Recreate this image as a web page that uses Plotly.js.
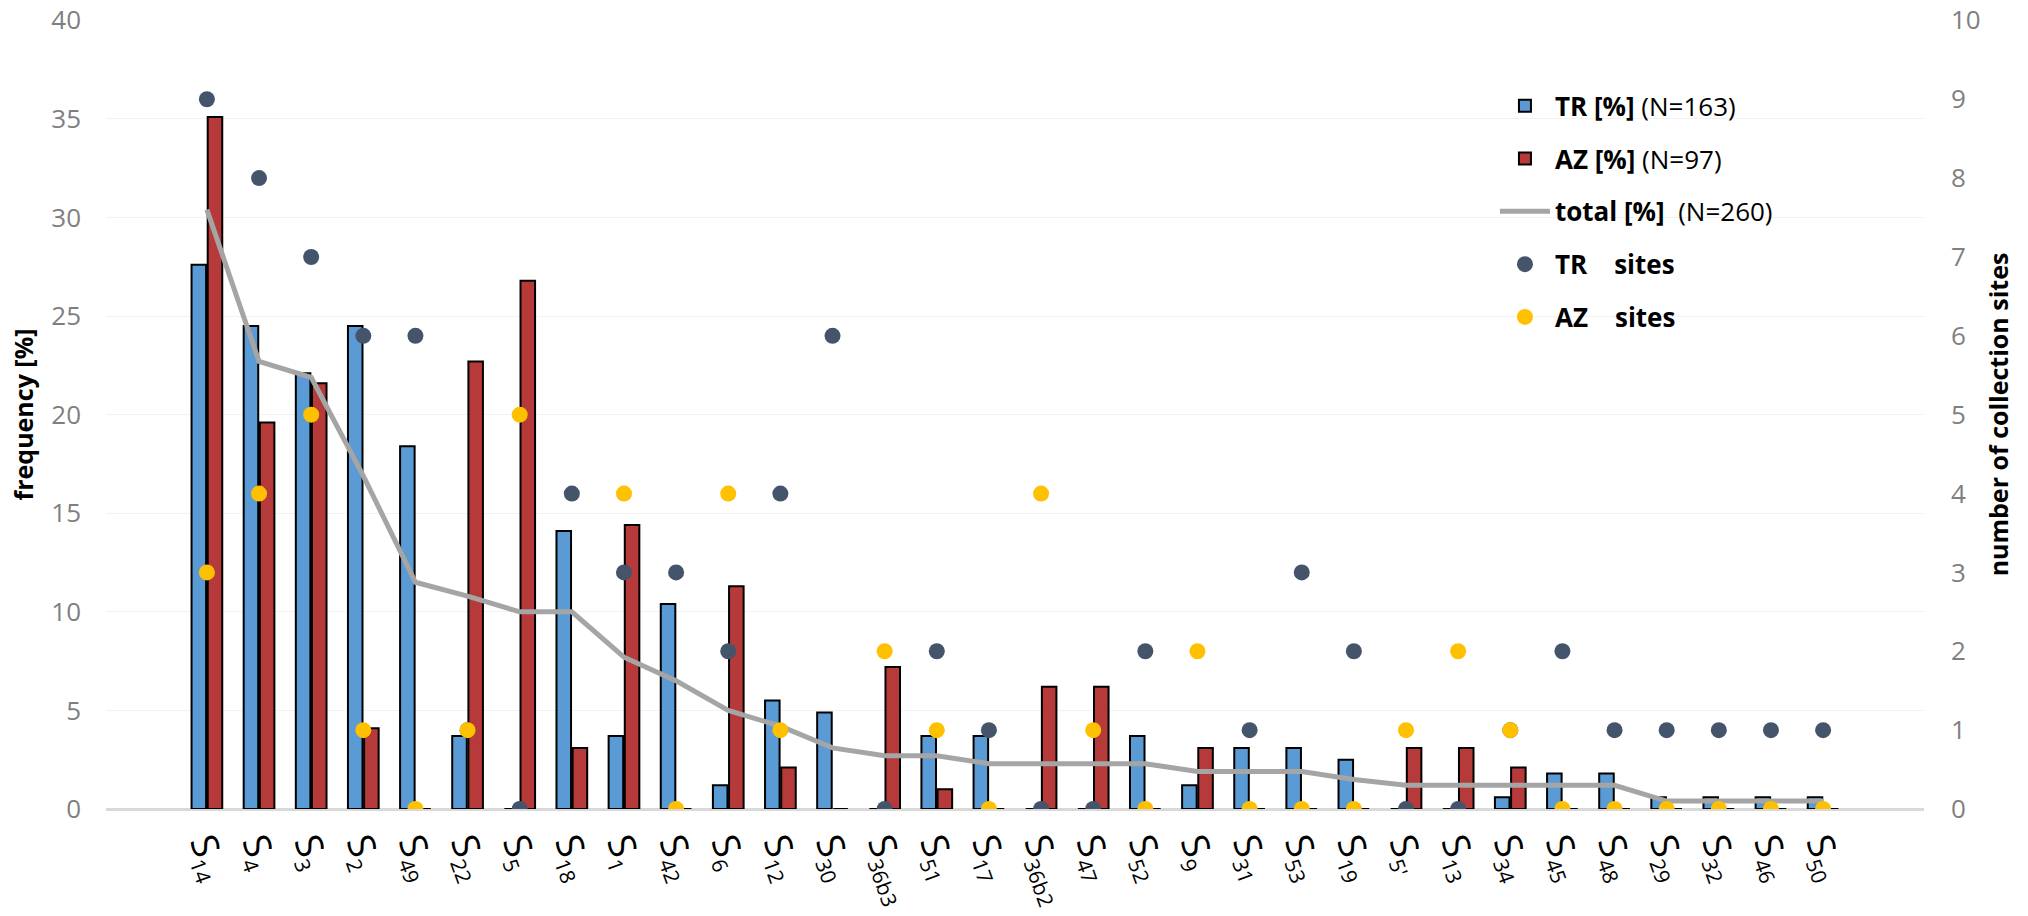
<!DOCTYPE html>
<html>
<head>
<meta charset="utf-8">
<script src="https://cdn.plot.ly/plotly-3.0.1.min.js"></script>
<style>
  html, body { margin: 0; padding: 0; background: #fff; }
  #myDiv { width: 2028px; height: 916px; }
</style>
</head>
<body>
<div id="myDiv"></div>
<script>
// categories (haplotypes), in chart order
var cats = ['14','4','3','2','49','22','5','18','1','42','6','12','30','36b3','51','17',
            '36b2','47','52','9','31','53','19',"5'",'13','34','45','48','29','32','46','50'];

// frequency [%]
var trPct = [27.6,24.5,22.1,24.5,18.4,3.7,0,14.1,3.7,10.4,1.2,5.5,4.9,0,3.7,3.7,
             0,0,3.7,1.2,3.1,3.1,2.5,0,0,0.6,1.8,1.8,0.6,0.6,0.6,0.6];
var azPct = [35.1,19.6,21.6,4.1,0,22.7,26.8,3.1,14.4,0,11.3,2.1,0,7.2,1.0,0,
             6.2,6.2,0,3.1,0,0,0,3.1,3.1,2.1,0,0,0,0,0,0];
var totalPct = [30.4,22.7,21.9,16.9,11.5,10.8,10.0,10.0,7.7,6.5,5.0,4.2,3.1,2.7,2.7,2.3,
                2.3,2.3,2.3,1.9,1.9,1.9,1.5,1.2,1.2,1.2,1.2,1.2,0.4,0.4,0.4,0.4];

// number of collection sites
var trSites = [9,8,7,6,6,1,0,4,3,3,2,4,6,0,2,1,
               0,0,2,null,1,3,2,0,0,1,2,1,1,1,1,1];
var azSites = [3,4,5,1,0,1,5,null,4,0,4,1,null,2,1,0,
               4,1,0,2,0,0,0,1,2,1,0,0,0,0,0,0];

var tickText = [];
for (var i = 0; i < cats.length; i++) {
  tickText.push('S<sub><span style="font-size:21px">' + cats[i] + '</span></sub>');
}

var font = '"Open Sans", "Noto Sans", sans-serif';

var traceTR = {
  x: cats, y: trPct, type: 'bar', name: '<b>TR [%]</b> (N=163)',
  marker: { color: '#5B9BD5', line: { color: '#000', width: 2 } },
  legendgroup: 'a'
};
var traceAZ = {
  x: cats, y: azPct, type: 'bar', name: '<b>AZ [%]</b> (N=97)',
  marker: { color: '#B63A3A', line: { color: '#000', width: 2 } },
  legendgroup: 'b'
};
var traceTotal = {
  x: cats, y: totalPct, type: 'scatter', mode: 'lines', name: '<b>total [%]</b>  (N=260)',
  line: { color: '#A5A5A5', width: 5 },
  legendgroup: 'c'
};
var traceTRs = {
  x: cats, y: trSites, type: 'scatter', mode: 'markers', yaxis: 'y2',
  name: '<b>TR&nbsp;&nbsp;&nbsp;&nbsp;sites</b>',
  marker: { color: '#44546A', size: 16 },
  legendgroup: 'd'
};
var traceAZs = {
  x: cats, y: azSites, type: 'scatter', mode: 'markers', yaxis: 'y2',
  name: '<b>AZ&nbsp;&nbsp;&nbsp;&nbsp;sites</b>',
  marker: { color: '#FFC000', size: 16 },
  legendgroup: 'e'
};

var data = [traceTR, traceAZ, traceTotal, traceTRs, traceAZs];

var layout = {
  width: 2028, height: 916,
  margin: { l: 106, r: 104, t: 20, b: 107, autoexpand: false },
  paper_bgcolor: '#fff', plot_bgcolor: '#fff',
  font: { family: font, color: '#000' },
  barmode: 'group', bargap: 0.38, bargroupgap: 0.1,
  showlegend: true,
  legend: {
    x: 0.764, y: 0.921, xanchor: 'left', yanchor: 'top',
    font: { size: 26, color: '#000', family: font },
    traceorder: 'grouped', tracegroupgap: 16,
    bgcolor: 'rgba(255,255,255,0)', itemwidth: 50
  },
  xaxis: {
    type: 'category', tickvals: cats, ticktext: tickText, tickangle: 70,
    tickfont: { size: 37, color: '#000', family: font },
    showgrid: false, showline: false, ticks: '', zeroline: false,
    automargin: false, ticklabelstandoff: 6
  },
  yaxis: {
    range: [0, 40.02], tickvals: [0,5,10,15,20,25,30,35,40],
    tickfont: { size: 26, color: '#7F7F7F', family: font },
    showgrid: true, gridcolor: '#F2F2F2', gridwidth: 1,
    zeroline: true, zerolinecolor: '#D9D9D9', zerolinewidth: 3,
    ticks: '', showline: false, automargin: false, ticklabelstandoff: 24,
    ticklabeloverflow: 'allow',
    title: { text: '<b>frequency [%]</b>', font: { size: 25, color: '#000', family: font }, standoff: 10 }
  },
  yaxis2: {
    overlaying: 'y', side: 'right', range: [0, 10.005], tickvals: [0,1,2,3,4,5,6,7,8,9,10],
    tickfont: { size: 26, color: '#7F7F7F', family: font },
    showgrid: false, zeroline: false, showline: false, ticks: '',
    automargin: false, ticklabelstandoff: 26, ticklabeloverflow: 'allow',
    title: { text: '<b>number of collection sites</b>', font: { size: 25, color: '#000', family: font }, standoff: 10 }
  }
};

Plotly.newPlot('myDiv', data, layout, { displayModeBar: false, staticPlot: true });
</script>
</body>
</html>
